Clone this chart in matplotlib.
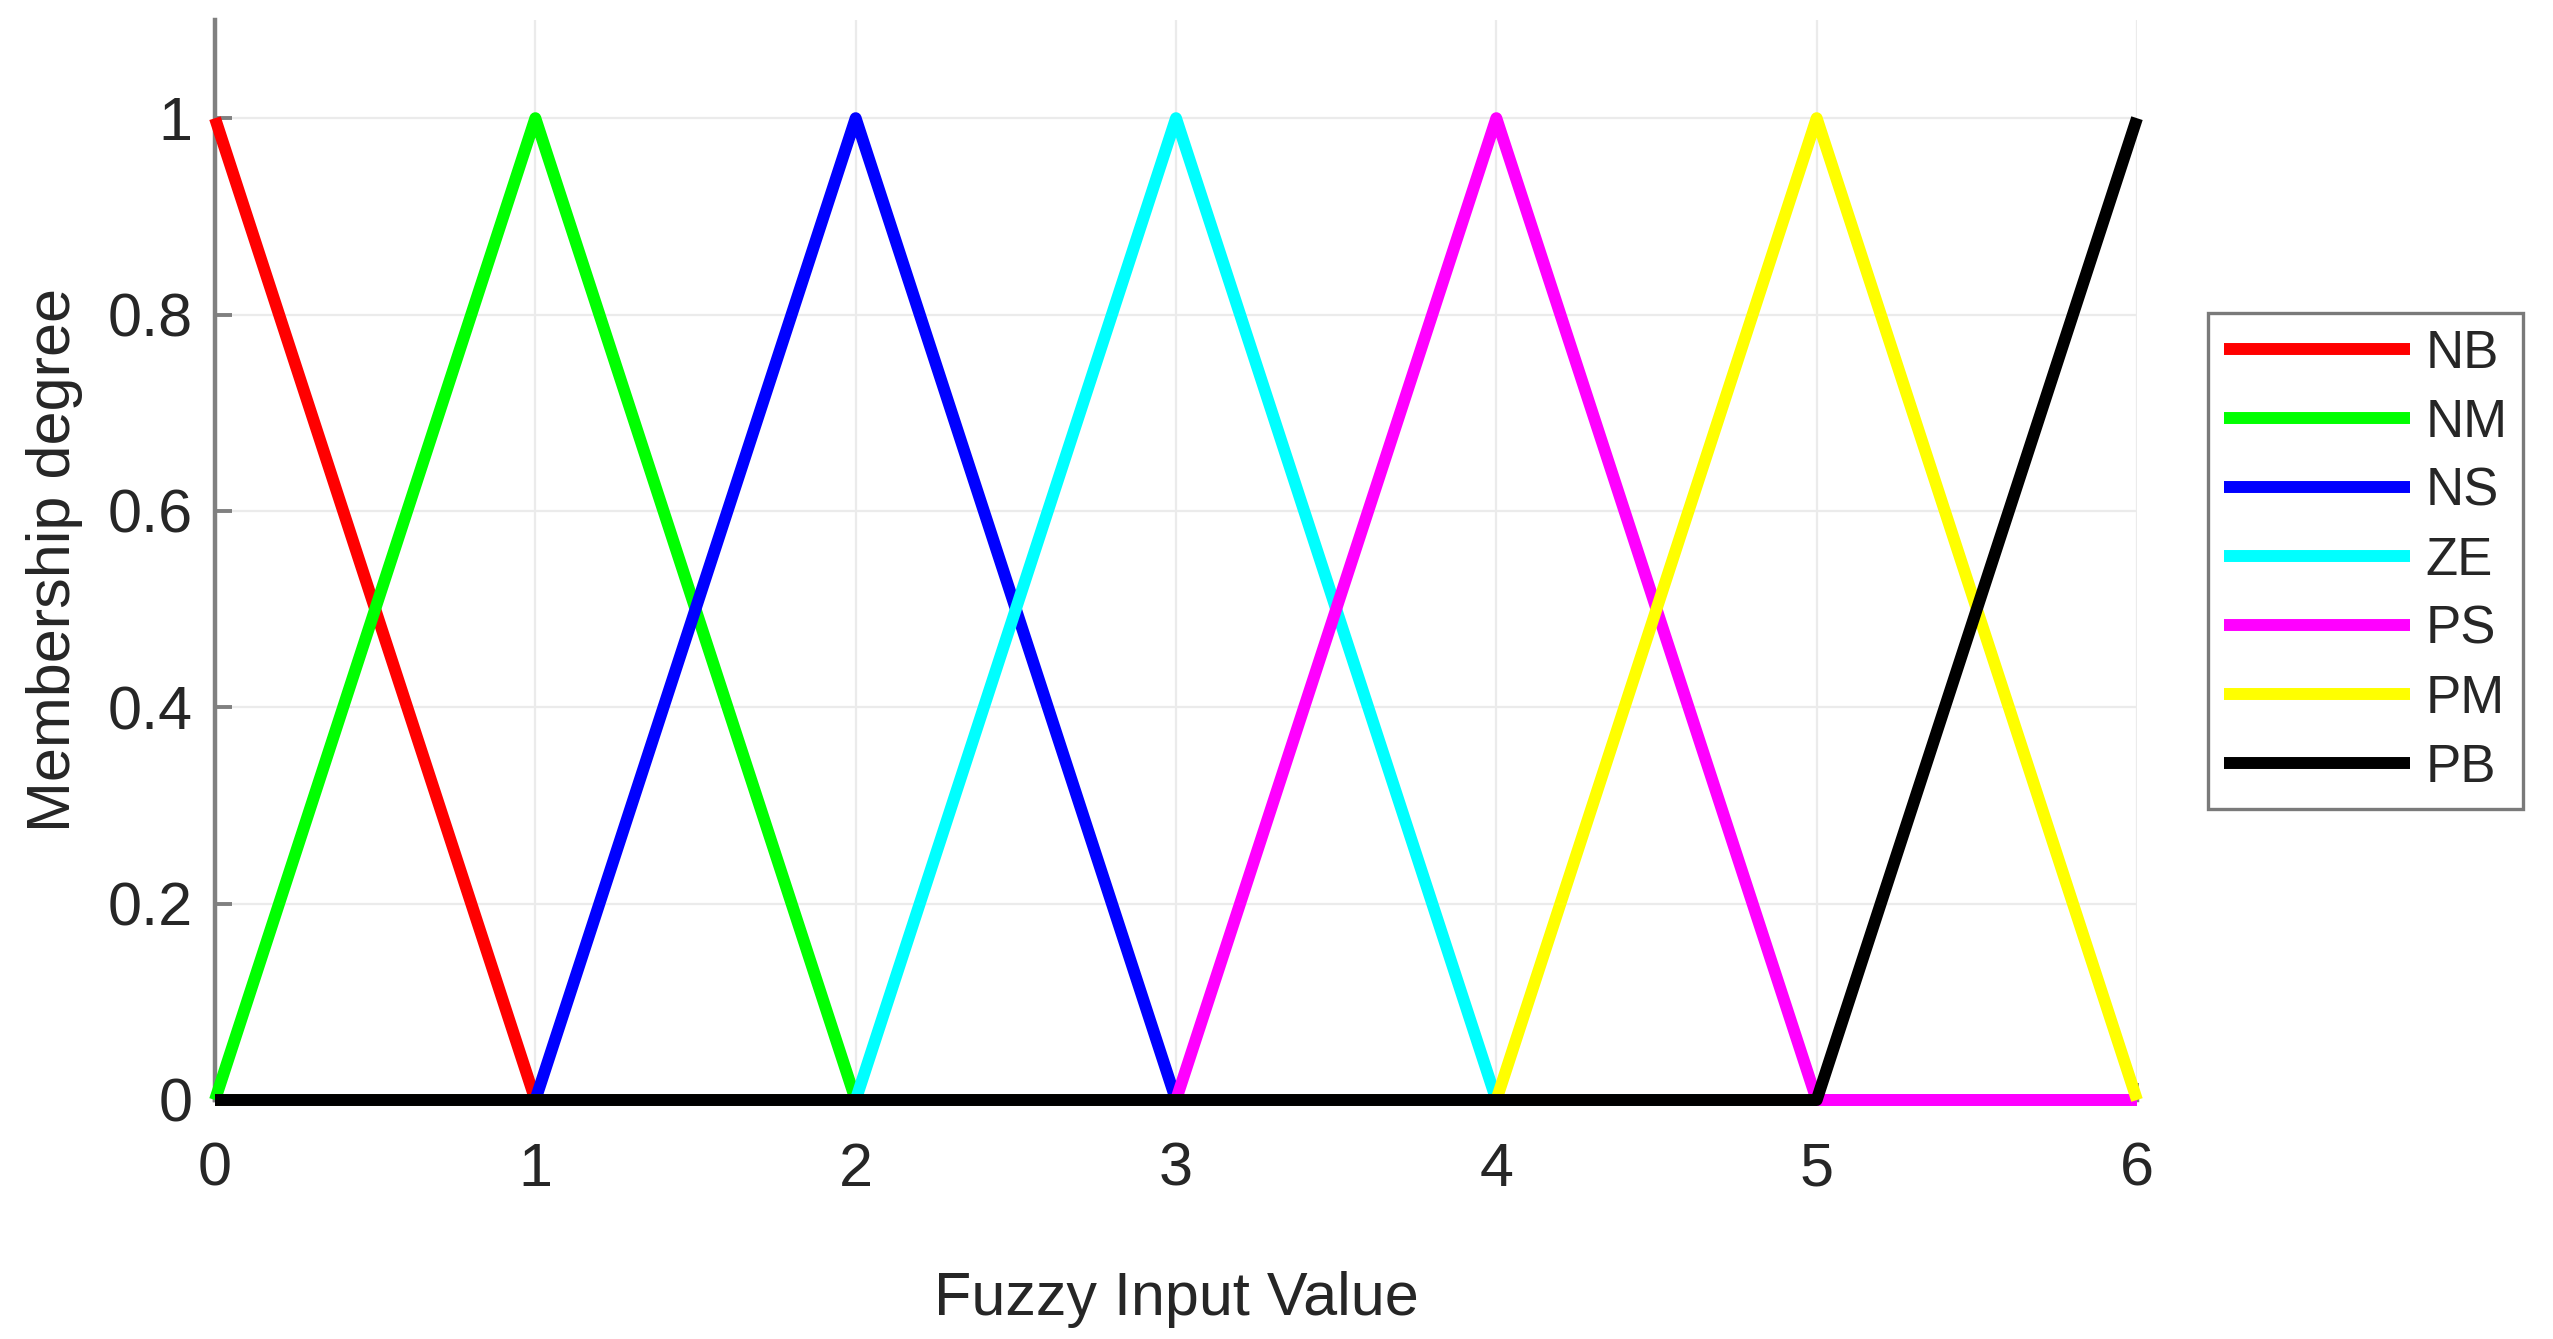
import matplotlib
matplotlib.use("Agg")
import matplotlib.pyplot as plt

# ---- membership functions (triangular, sampled at their break points) ----
labels = ["NB", "NM", "NS", "ZE", "PS", "PM", "PB"]
colors = ["#FF0000", "#00FF00", "#0000FF", "#00FFFF", "#FF00FF", "#FFFF00", "#000000"]
xs = [
    [0, 1, 6],
    [0, 1, 2, 6],
    [0, 1, 2, 3, 6],
    [0, 2, 3, 4, 6],
    [0, 3, 4, 5, 6],
    [0, 4, 5, 6],
    [0, 5, 6],
]
ys = [
    [1, 0, 0],
    [0, 1, 0, 0],
    [0, 0, 1, 0, 0],
    [0, 0, 1, 0, 0],
    [0, 0, 1, 0, 0],
    [0, 0, 1, 0],
    [0, 0, 1],
]
xticks = [0, 1, 2, 3, 4, 5, 6]
yticks = [0, 0.2, 0.4, 0.6, 0.8, 1]

INK = "#262626"
AXC = "#808080"
GRID = "#EBEBEB"

plt.rcParams.update({
    "font.family": ["Liberation Sans", "DejaVu Sans"],
    "text.color": INK, "axes.labelcolor": INK,
    "xtick.color": AXC, "ytick.color": AXC,
    "xtick.labelcolor": INK, "ytick.labelcolor": INK,
})

fig = plt.figure(figsize=(12.765, 6.695), dpi=200)
ax = fig.add_axes([215 / 2553, 1 - 1100 / 1339, (2137 - 215) / 2553, 1080 / 1339])

for x, y, c, lab in zip(xs, ys, colors, labels):
    ax.plot(x, y, color=c, lw=4.3, label=lab, solid_capstyle="butt",
            clip_on=False, zorder=3)

ax.set_xlim(0, 6)
ax.set_ylim(0, 1.1)
ax.set_xticks(xticks)
ax.set_xticklabels([str(v) for v in xticks])
ax.set_yticks(yticks)
ax.set_yticklabels(["0", "0.2", "0.4", "0.6", "0.8", "1"])
ax.tick_params(axis="both", direction="in", length=6, width=1.4, labelsize=22)
ax.tick_params(axis="x", pad=15)
ax.tick_params(axis="y", pad=8)
ax.grid(True, color=GRID, lw=0.8)
ax.set_axisbelow(True)
for s in ("top", "right"):
    ax.spines[s].set_visible(False)
for s in ("left", "bottom"):
    ax.spines[s].set_color(AXC)
    ax.spines[s].set_linewidth(1.6)

ax.set_xlabel("Fuzzy Input Value", fontsize=22, labelpad=26)
ax.set_ylabel("Membership degree", fontsize=22, labelpad=9)

leg = ax.legend(loc="upper left", bbox_to_anchor=(2208 / 2553, 1 - 313 / 1339),
                bbox_transform=fig.transFigure, borderaxespad=0, fontsize=19,
                handlelength=3.52, handletextpad=0.3, borderpad=0.3,
                labelspacing=0.36, fancybox=False, framealpha=1)
leg.get_frame().set_edgecolor("#7A7A7A")
leg.get_frame().set_linewidth(1.2)

fig.savefig("out.png", dpi=200, facecolor="white")
